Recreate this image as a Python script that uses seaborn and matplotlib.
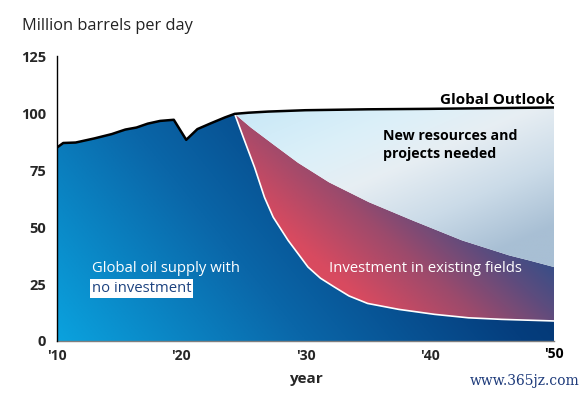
import numpy as np
import pandas as pd
import matplotlib
matplotlib.use("Agg")
import matplotlib.pyplot as plt
import seaborn as sns
from matplotlib.colors import LinearSegmentedColormap
from matplotlib.patches import Polygon

# ---------------- data ----------------
hist_years = [2010, 2010.5, 2011.5, 2013, 2014.4, 2015, 2015.5, 2016.4, 2017.3,
              2018.3, 2019.4, 2020.4, 2021.3, 2022.4, 2023.5, 2024.3]
hist_values = [85.0, 87.0, 87.2, 89.0, 90.9, 92.0, 92.9, 93.8, 95.5,
               96.7, 97.2, 88.4, 93.1, 95.7, 98.2, 99.8]

outlook_years = [2025.4, 2027, 2030, 2035, 2040, 2045, 2050]
outlook_values = [100.3, 100.8, 101.4, 101.8, 102.0, 102.3, 102.6]

noinv_years = [2025, 2025.9, 2026.7, 2027.4, 2028.6, 2029.6, 2030.2, 2031.2, 2032.3,
               2033.5, 2035, 2037.5, 2040.4, 2043.1, 2045.8, 2050]
noinv_values = [89.4, 76.3, 63.1, 54.4, 44.2, 36.9, 32.5, 27.6, 23.8,
                19.8, 16.5, 13.9, 11.7, 10.2, 9.5, 8.8]

existing_years = [2025.6, 2027.5, 2029.4, 2031.9, 2035.1, 2038.6, 2042.6, 2046.4, 2048, 2050]
existing_values = [93.8, 86.0, 78.3, 69.7, 61.0, 53.0, 44.2, 37.6, 35.4, 32.5]

xtick_years = [2010, 2020, 2030, 2040, 2050]
xtick_labels = ["'10", "'20", "'30", "'40", "'50"]
ytick_values = [0, 25, 50, 75, 100, 125]

# ---------------- style ----------------
sns.set_theme(style="white")
plt.rcParams["font.family"] = ["Open Sans", "DejaVu Sans"]

fig = plt.figure(figsize=(5.88, 3.99), dpi=100)
ax = fig.add_axes([57 / 588, 58 / 399, (554 - 57) / 588, (341 - 56.5) / 399])

X0, X1, Y0, Y1 = 2010, 2050, 0, 125


def grad_fill(xs, ys, stops, ufunc, z):
    poly = Polygon(np.column_stack([xs, ys]), closed=True, facecolor="none",
                   edgecolor="none", transform=ax.transData)
    ax.add_patch(poly)
    gx = np.linspace(X0, X1, 500)
    gy = np.linspace(Y0, Y1, 400)
    GX, GY = np.meshgrid(gx, gy)
    U = np.clip(ufunc((GX - X0) / (X1 - X0), GY / 100.0), 0, 1)
    cmap = LinearSegmentedColormap.from_list("g", stops)
    im = ax.imshow(U, extent=[X0, X1, Y0, Y1], origin="lower", cmap=cmap,
                   vmin=0, vmax=1, aspect="auto", interpolation="bilinear", zorder=z)
    im.set_clip_path(poly)


peak_x, peak_y = hist_years[-1], hist_values[-1]

# dark blue region: no investment
dx = hist_years + noinv_years + [2050, 2010]
dy = hist_values + noinv_values + [0, 0]
grad_fill(dx, dy, [(0, "#0aa2de"), (0.4, "#0a66a8"), (0.75, "#053e7e"), (1, "#03306a")],
          lambda xn, yn: 0.8 * xn + 0.3 * yn, 1)

# pink region: investment in existing fields
px = [peak_x] + existing_years + noinv_years[::-1]
py = [peak_y] + existing_values + noinv_values[::-1]
grad_fill(px, py, [(0, "#e04a5e"), (0.2, "#d84a60"), (0.5, "#9c4a6c"),
                   (0.75, "#5c4c7e"), (1, "#264f8c")],
          lambda xn, yn: (xn - 0.35) / 0.65 + 0.8 * yn - 0.35, 1)

# light region: new resources
lx = [peak_x] + outlook_years + existing_years[::-1]
ly = [peak_y] + outlook_values + existing_values[::-1]
grad_fill(lx, ly, [(0, "#c8e8f7"), (0.3, "#dcf0f9"), (0.5, "#e7eef3"),
                   (0.75, "#cbdbe8"), (1, "#a8bfd4")],
          lambda xn, yn: 0.55 * (xn - 0.35) / 0.65 + 0.9 * (1 - yn), 1)

# outlines
line_df = pd.DataFrame({"year": hist_years + outlook_years,
                        "value": hist_values + outlook_values})
sns.lineplot(data=line_df, x="year", y="value", color="black", lw=1.8,
             estimator=None, ax=ax, zorder=4)
noinv_df = pd.DataFrame({"year": [peak_x] + noinv_years,
                         "value": [peak_y] + noinv_values})
sns.lineplot(data=noinv_df, x="year", y="value", color="white", lw=1.2,
             estimator=None, ax=ax, zorder=3)

ax.set_xlim(X0, X1)
ax.set_ylim(Y0, Y1)

# axes styling
for s in ["top", "right"]:
    ax.spines[s].set_visible(False)
ax.spines["left"].set_color("black")
ax.spines["left"].set_linewidth(1.0)
ax.spines["bottom"].set_color("#7f7f7f")
ax.spines["bottom"].set_linewidth(1.0)
ax.spines["left"].set_zorder(5)

ax.set_yticks(ytick_values)
ax.set_yticklabels([str(v) for v in ytick_values], fontsize=10.5, fontweight="bold")
ax.set_xticks(xtick_years[:-1])
ax.set_xticklabels(xtick_labels[:-1], fontsize=10, fontweight="bold")
ax.tick_params(axis="y", length=0, pad=8)
ax.tick_params(axis="x", length=0, pad=6)
ax.text(xtick_years[-1], -2.5, xtick_labels[-1], ha="center", va="top",
        fontsize=10, fontweight="bold", color="black")
ax.set_ylabel("")
ax.set_xlabel("year", fontsize=11, fontweight="bold", labelpad=6)

# texts
fig.text(22 / 588, 1 - 26 / 399, "Million barrels per day", fontsize=11.8,
         ha="left", va="center", color="#222222")
ax.text(2050, 104.3, "Global Outlook", ha="right", va="baseline", fontsize=11,
        fontweight="bold", color="black", zorder=6)
ax.text(2036.2, 80.5, "New resources and\nprojects needed", ha="left",
        va="baseline", fontsize=10.2, fontweight="bold", color="black",
        linespacing=1.35, zorder=6)
ax.text(2012.8, 30.5, "Global oil supply with", ha="left", va="baseline",
        fontsize=10.7, color="white", zorder=6)
ax.text(2012.8, 21.5, "no investment", ha="left", va="baseline",
        fontsize=10.7, color="#1d4380", zorder=6,
        bbox=dict(boxstyle="square,pad=0.12", facecolor="white", edgecolor="none"))
ax.text(2031.9, 30.5, "Investment in existing fields", ha="left", va="baseline",
        fontsize=10.7, color="white", zorder=6)

fig.text(580 / 588, 1 - 381 / 399, "www.365jz.com", ha="right", va="center",
         fontsize=10, color="#1d3a7a", family="DejaVu Serif")

fig.savefig("out.png", dpi=100)
